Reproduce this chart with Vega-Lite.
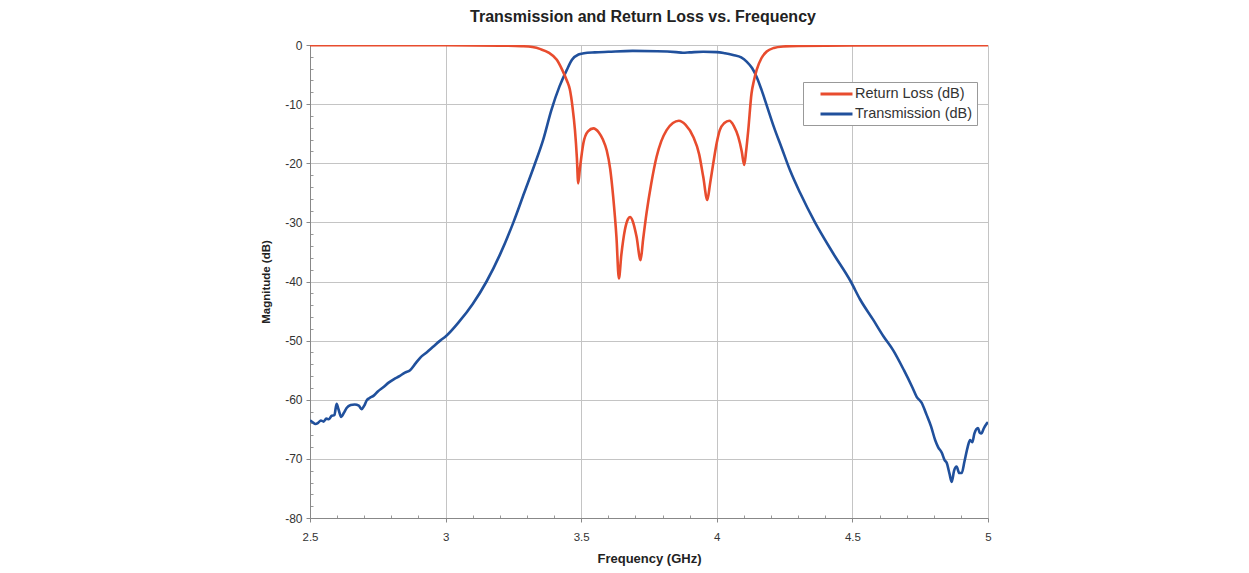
{
  "$schema": "https://vega.github.io/schema/vega-lite/v6.json",
  "width": 678,
  "height": 473,
  "autosize": {"type": "none"},
  "padding": {"left": 310, "top": 45, "right": 261, "bottom": 55},
  "background": "white",
  "title": {
    "text": "Transmission and Return Loss vs. Frequency",
    "font": "Liberation Sans",
    "fontSize": 16,
    "fontWeight": "bold",
    "color": "#222222",
    "anchor": "middle",
    "frame": "group",
    "baseline": "bottom",
    "offset": -2,
    "dx": -6
  },
  "config": {
    "view": {"stroke": null},
    "font": "Liberation Sans"
  },
  "datasets": {
    "T": [
      [2.5,-63.5],[2.51,-63.8],[2.52,-64.1],[2.53,-63.9],[2.54,-63.5],[2.55,-63.7],[2.56,-63.2],[2.57,-63.3],[2.58,-62.7],[2.59,-62.6],[2.598,-60.7],[2.605,-61.6],[2.615,-62.9],[2.625,-62.2],[2.635,-61.4],[2.65,-60.9],[2.665,-60.8],[2.68,-61.0],[2.69,-61.6],[2.7,-61.0],[2.709,-60.1],[2.72,-59.7],[2.735,-59.3],[2.75,-58.6],[2.77,-57.9],[2.79,-57.1],[2.81,-56.5],[2.83,-56.0],[2.85,-55.4],[2.869,-55.0],[2.89,-53.8],[2.906,-52.9],[2.93,-52.0],[2.955,-51.0],[2.98,-50.0],[3.0,-49.3],[3.05,-46.8],[3.1,-43.8],[3.151,-40.0],[3.2,-35.5],[3.25,-30.0],[3.29,-25.0],[3.33,-20.0],[3.36,-16.0],[3.39,-11.0],[3.42,-7.0],[3.447,-4.2],[3.466,-2.5],[3.49,-1.6],[3.51,-1.4],[3.55,-1.25],[3.6,-1.15],[3.69,-1.0],[3.78,-1.05],[3.85,-1.2],[3.875,-1.3],[3.9,-1.25],[3.95,-1.15],[4.0,-1.2],[4.03,-1.4],[4.06,-1.7],[4.09,-2.1],[4.11,-2.8],[4.13,-3.9],[4.147,-5.4],[4.165,-7.6],[4.184,-10.2],[4.21,-13.8],[4.24,-17.5],[4.27,-21.2],[4.307,-25.0],[4.362,-30.0],[4.43,-35.3],[4.494,-40.0],[4.528,-43.0],[4.577,-46.5],[4.615,-49.3],[4.65,-51.6],[4.69,-55.0],[4.72,-57.8],[4.737,-59.5],[4.755,-60.5],[4.774,-62.6],[4.79,-64.5],[4.805,-66.8],[4.816,-68.0],[4.83,-69.0],[4.84,-70.2],[4.848,-70.7],[4.858,-72.5],[4.866,-73.9],[4.875,-72.0],[4.884,-71.3],[4.894,-72.4],[4.903,-72.4],[4.913,-70.5],[4.925,-68.0],[4.934,-66.8],[4.942,-67.2],[4.95,-65.7],[4.963,-64.8],[4.97,-65.6],[4.975,-65.7],[4.985,-64.8],[4.993,-64.2],[5.0,-63.8]
    ],
    "R": [
      [2.5,-0.02],[3.0,-0.05],[3.2,-0.1],[3.28,-0.2],[3.32,-0.35],[3.35,-0.7],[3.38,-1.3],[3.41,-2.5],[3.43,-4.2],[3.447,-6.0],[3.458,-7.5],[3.468,-10.5],[3.477,-14.4],[3.484,-19.0],[3.489,-23.4],[3.495,-21.0],[3.508,-16.6],[3.525,-14.6],[3.545,-14.1],[3.565,-14.8],[3.58,-16.0],[3.594,-17.8],[3.607,-21.0],[3.618,-25.7],[3.63,-32.5],[3.639,-39.5],[3.648,-35.5],[3.661,-31.3],[3.672,-29.5],[3.68,-29.1],[3.69,-29.8],[3.704,-32.4],[3.719,-36.4],[3.728,-33.0],[3.741,-28.4],[3.758,-23.5],[3.778,-18.9],[3.795,-16.3],[3.815,-14.4],[3.838,-13.2],[3.86,-12.8],[3.885,-13.5],[3.913,-15.5],[3.935,-18.5],[3.95,-22.3],[3.965,-26.2],[3.975,-23.5],[3.987,-20.0],[4.0,-16.5],[4.011,-14.4],[4.028,-13.2],[4.046,-12.8],[4.063,-13.7],[4.079,-15.5],[4.092,-18.0],[4.101,-20.3],[4.108,-18.0],[4.116,-14.4],[4.128,-8.2],[4.137,-6.0],[4.147,-4.2],[4.165,-2.2],[4.184,-1.1],[4.21,-0.5],[4.245,-0.25],[4.3,-0.15],[4.5,-0.08],[5.0,-0.05]
    ]
  },
  "resolve": {"axis": {"x": "independent", "y": "independent"}},
  "layer": [
    {
      "data": {"name": "T"},
      "transform": [
        {"calculate": "datum[0]", "as": "f"},
        {"calculate": "datum[1]", "as": "m"},
        {"calculate": "'Transmission (dB)'", "as": "series"}
      ],
      "mark": {"type": "line", "strokeWidth": 2.6, "interpolate": "monotone", "clip": true},
      "encoding": {
        "x": {
          "field": "f", "type": "quantitative",
          "axis": {
            "orient": "bottom",
            "values": [2.6, 2.7, 2.8, 2.9, 3.1, 3.2, 3.3, 3.4, 3.6, 3.7, 3.8, 3.9, 4.1, 4.2, 4.3, 4.4, 4.6, 4.7, 4.8, 4.9],
            "labels": false, "title": null, "grid": false, "domain": false,
            "tickSize": -3, "tickColor": "#999999"
          }
        },
        "y": {
          "field": "m", "type": "quantitative",
          "axis": {
            "orient": "left",
            "values": [-78, -76, -74, -72, -68, -66, -64, -62, -58, -56, -54, -52, -48, -46, -44, -42, -38, -36, -34, -32, -28, -26, -24, -22, -18, -16, -14, -12, -8, -6, -4, -2],
            "labels": false, "title": null, "grid": false, "domain": false,
            "tickSize": -3, "tickColor": "#999999"
          }
        },
        "color": {"field": "series", "type": "nominal"}
      }
    },
    {
      "data": {"name": "R"},
      "transform": [
        {"calculate": "datum[0]", "as": "f"},
        {"calculate": "datum[1]", "as": "m"},
        {"calculate": "'Return Loss (dB)'", "as": "series"}
      ],
      "mark": {"type": "line", "strokeWidth": 2.6, "interpolate": "monotone", "clip": true},
      "encoding": {
        "x": {
          "field": "f", "type": "quantitative",
          "scale": {"domain": [2.5, 5], "nice": false, "zero": false},
          "axis": {
            "orient": "bottom",
            "title": "Frequency (GHz)",
            "values": [2.5, 3, 3.5, 4, 4.5, 5],
            "labelExpr": "datum.value + ''",
            "labelFlush": false,
            "labelFontSize": 11.5, "labelColor": "#333333", "labelPadding": 9,
            "titleFontSize": 13, "titleFontWeight": "bold", "titleColor": "#222222", "titlePadding": 10,
            "grid": true, "gridColor": "#c4c4c4", "gridWidth": 1,
            "domainColor": "#888888", "tickColor": "#888888", "tickSize": 4
          }
        },
        "y": {
          "field": "m", "type": "quantitative",
          "scale": {"domain": [-80, 0], "nice": false, "zero": false},
          "axis": {
            "orient": "left",
            "title": "Magnitude (dB)",
            "values": [-80, -70, -60, -50, -40, -30, -20, -10, 0],
            "labelExpr": "datum.value + ''",
            "labelFontSize": 12, "labelColor": "#333333", "labelPadding": 4,
            "titleFontSize": 11.5, "titleFontWeight": "bold", "titleColor": "#222222", "titlePadding": 13,
            "grid": true, "gridColor": "#c4c4c4", "gridWidth": 1,
            "domainColor": "#888888", "tickColor": "#888888", "tickSize": 4
          }
        },
        "color": {
          "field": "series", "type": "nominal",
          "scale": {"domain": ["Return Loss (dB)", "Transmission (dB)"], "range": ["#e84c2e", "#20509c"]},
          "legend": {
            "title": null,
            "orient": "none",
            "legendX": 493,
            "legendY": 37,
            "symbolType": "M-2.46,0L2.46,0",
            "symbolStrokeWidth": 3,
            "symbolSize": 169,
            "symbolOffset": 21.5,
            "labelFontSize": 14.5,
            "labelColor": "#333333",
            "labelOffset": 10.5,
            "labelExpr": "datum.label + '     '",
            "rowPadding": 5,
            "padding": 4,
            "strokeColor": "#999999",
            "fillColor": "white"
          }
        }
      }
    }
  ]
}
